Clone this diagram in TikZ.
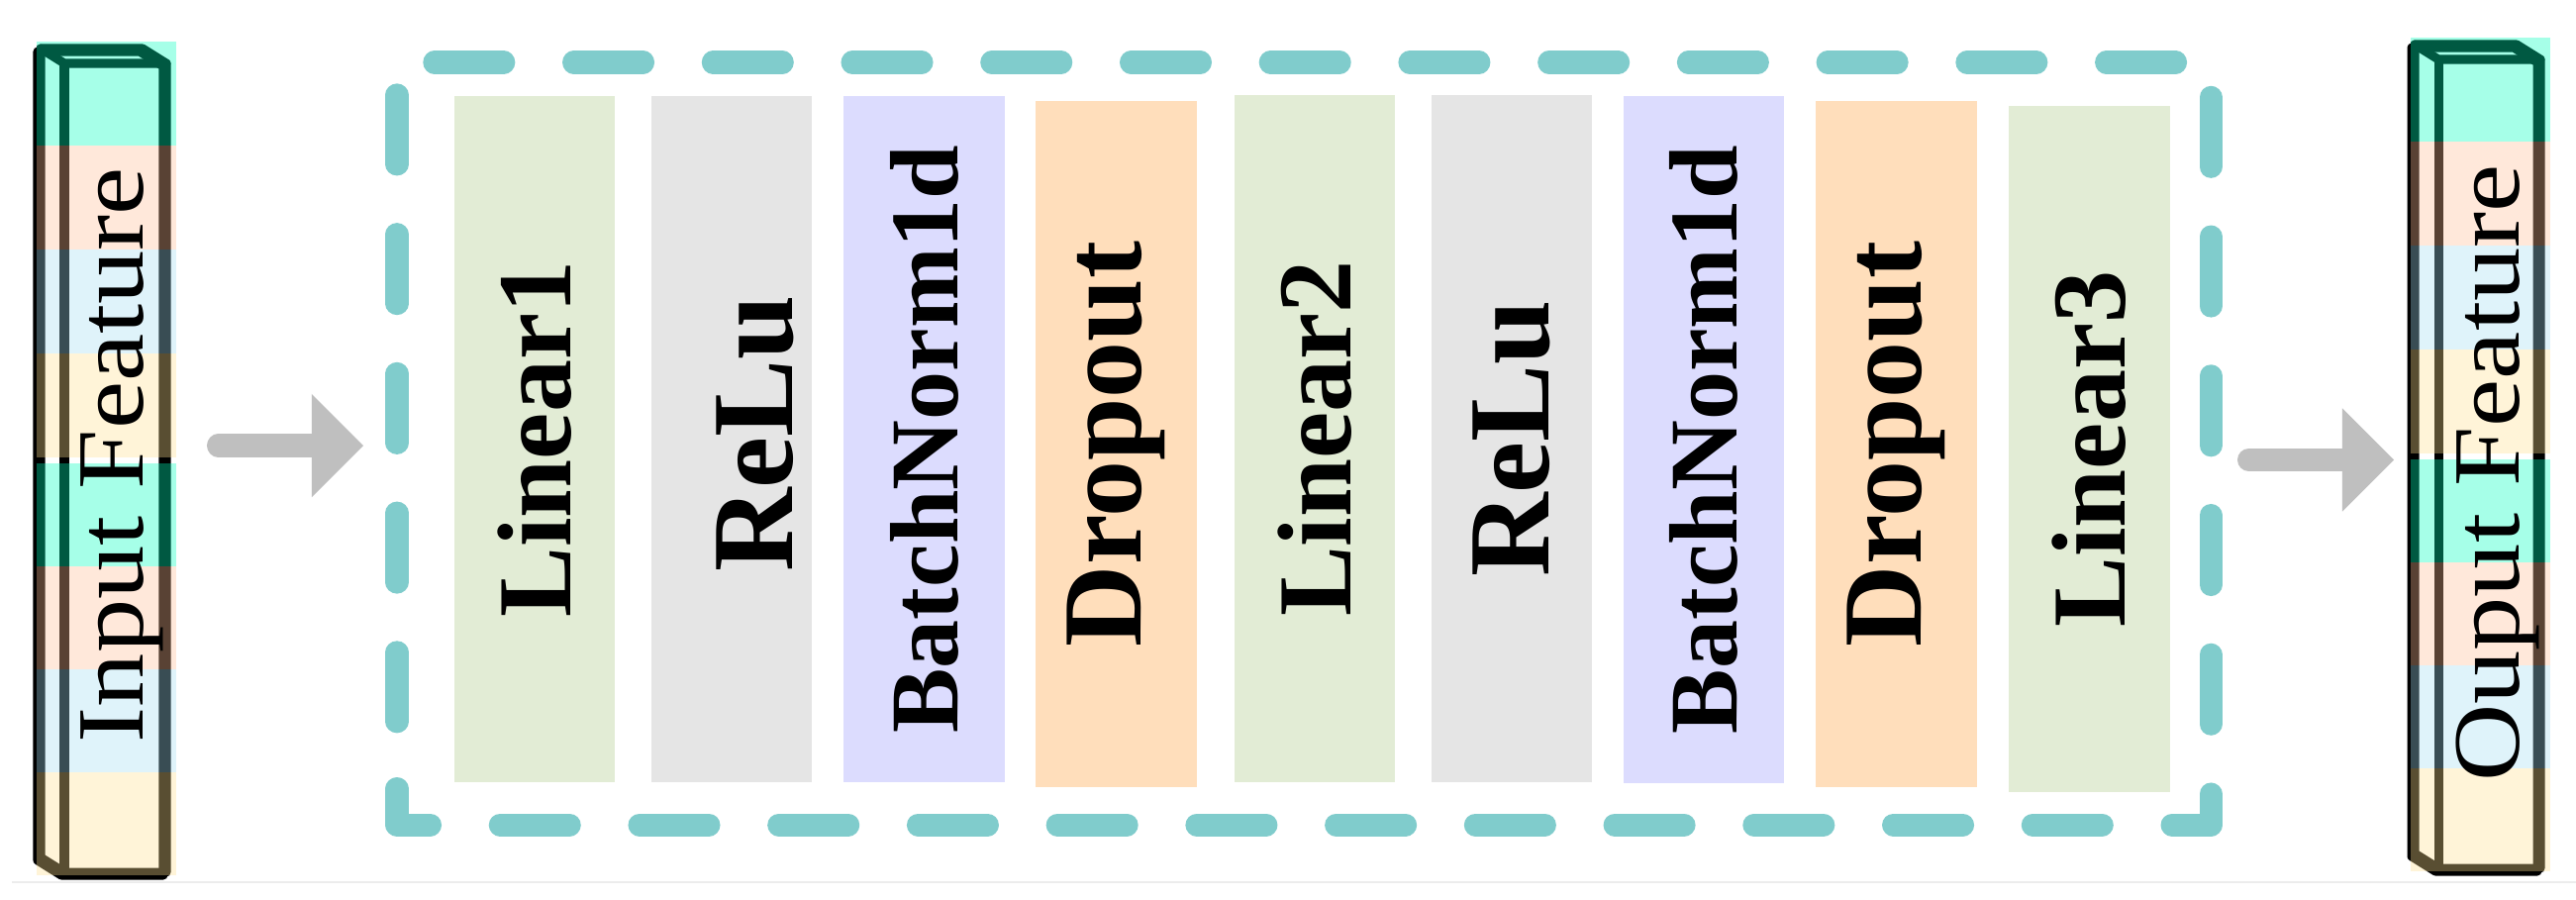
\documentclass[tikz,border=0pt]{standalone}
\usepackage{fontspec}
\setmainfont{Liberation Serif}
\newfontfamily\featfont[FakeStretch=1.13]{Liberation Serif}
\usetikzlibrary{arrows.meta}
\definecolor{framec}{HTML}{80CCCC}
\definecolor{linc}{HTML}{E2ECD5}
\definecolor{reluc}{HTML}{E5E5E5}
\definecolor{bnc}{HTML}{DCDCFE}
\definecolor{dropc}{HTML}{FFDEBB}
\definecolor{arrc}{HTML}{BFBFBF}
\definecolor{bandcyan}{HTML}{00FFBE}
\definecolor{bandpeach}{HTML}{FFBE96}
\definecolor{bandblue}{HTML}{A6DFF3}
\definecolor{bandyellow}{HTML}{FFE092}
\tikzset{
  layerbox/.style={rotate=90, inner sep=0pt, minimum width=6.93cm, minimum height=1.62cm, text=black},
  linfont/.style={font=\bfseries\fontsize{30.2pt}{36pt}\selectfont},
  relufont/.style={font=\bfseries\fontsize{33.3pt}{40pt}\selectfont},
  bnfont/.style={font=\bfseries\fontsize{27.9pt}{34pt}\selectfont},
  dropfont/.style={font=\bfseries\fontsize{32.4pt}{39pt}\selectfont},
  featlabel/.style={rotate=90, inner sep=0pt, anchor=base, font=\featfont\fontsize{27.3pt}{33pt}\selectfont},
  boxline/.style={black, line width=0.09cm, line join=round, line cap=round},
  band/.style={fill opacity=0.35, draw=none},
  bigarrow/.style={draw=arrc, line width=0.23cm, line cap=round, -{Triangle[length=0.52cm, width=1.04cm, line width=0pt]}},
  framedash/.style={draw=framec, line width=0.23cm, line cap=round, line join=round, dash pattern=on 0.70cm off 0.7065cm}
}
\newcommand{\featcolumn}{%
  \begin{scope}[shift={(-3,3)}]
    \draw[boxline] (41,866) -- (41,49) -- (144,49) -- (168,64) -- (168,881) -- (65,881) -- cycle;
  \end{scope}
  \draw[boxline] (41,866) -- (41,49) -- (144,49) -- (168,64) -- (168,881) -- (65,881) -- cycle;
  \draw[boxline] (41,49) -- (65,64) -- (168,64);
  \draw[boxline] (65,64) -- (65,881);
  \fill[band, bandcyan]   (37,42)  rectangle (178,147);
  \fill[band, bandpeach]  (37,147) rectangle (178,252);
  \fill[band, bandblue]   (37,252) rectangle (178,357);
  \fill[band, bandyellow] (37,357) rectangle (178,462);
  \fill[band, bandcyan]   (37,468) rectangle (178,572);
  \fill[band, bandpeach]  (37,572) rectangle (178,676);
  \fill[band, bandblue]   (37,676) rectangle (178,780);
  \fill[band, bandyellow] (37,780) rectangle (178,884);
}
\begin{document}
\begin{tikzpicture}[x=0.01cm, y=-0.01cm]
  \path[use as bounding box, fill=white] (0,0) rectangle (2602,909);
  \draw[gray!15, line width=0.02cm] (12,891) -- (2602,891);

  % input feature column
  \featcolumn
  \node[featlabel] (inlab) at (144,459.5) {Input Feature};

  % output feature column
  \begin{scope}[shift={(2398,-4)}]
    \featcolumn
  \end{scope}
  \node[featlabel] (outlab) at (2544,478) {Ouput Feature};

  % dashed frame
  \draw[framedash] (401,796.5) -- (401,833) -- (2233,833) -- (2233,63) -- (401,63) -- cycle;

  % layers
  \node[layerbox, linfont, fill=linc] (b1) at (540,443.5) {Linear1};
  \node[layerbox, fill=reluc] (b2) at (739,443.5) {};
  \node[relufont, rotate=90, inner sep=0pt] (t2) at (763,438) {ReLu};
  \node[layerbox, bnfont, fill=bnc] (b3) at (933.5,443.5) {BatchNorm1d};
  \node[layerbox, dropfont, fill=dropc] (b4) at (1127.5,448.5) {Dropout};
  \node[layerbox, linfont, fill=linc] (b5) at (1328,443) {Linear2};
  \node[layerbox, relufont, fill=reluc] (b6) at (1527,443) {ReLu};
  \node[layerbox, bnfont, fill=bnc] (b7) at (1721,444) {BatchNorm1d};
  \node[layerbox, dropfont, fill=dropc] (b8) at (1915.5,448.5) {Dropout};
  \node[layerbox, linfont, fill=linc] (b9) at (2110.5,453.5) {Linear3};

  % arrows
  \coordinate (inS) at (220.5,450);
  \coordinate (inE) at (367,450);
  \coordinate (outS) at (2271.5,464.5);
  \coordinate (outE) at (2418,464.5);
  \draw[bigarrow] (inS) -- (inE);
  \draw[bigarrow] (outS) -- (outE);
\end{tikzpicture}
\end{document}
